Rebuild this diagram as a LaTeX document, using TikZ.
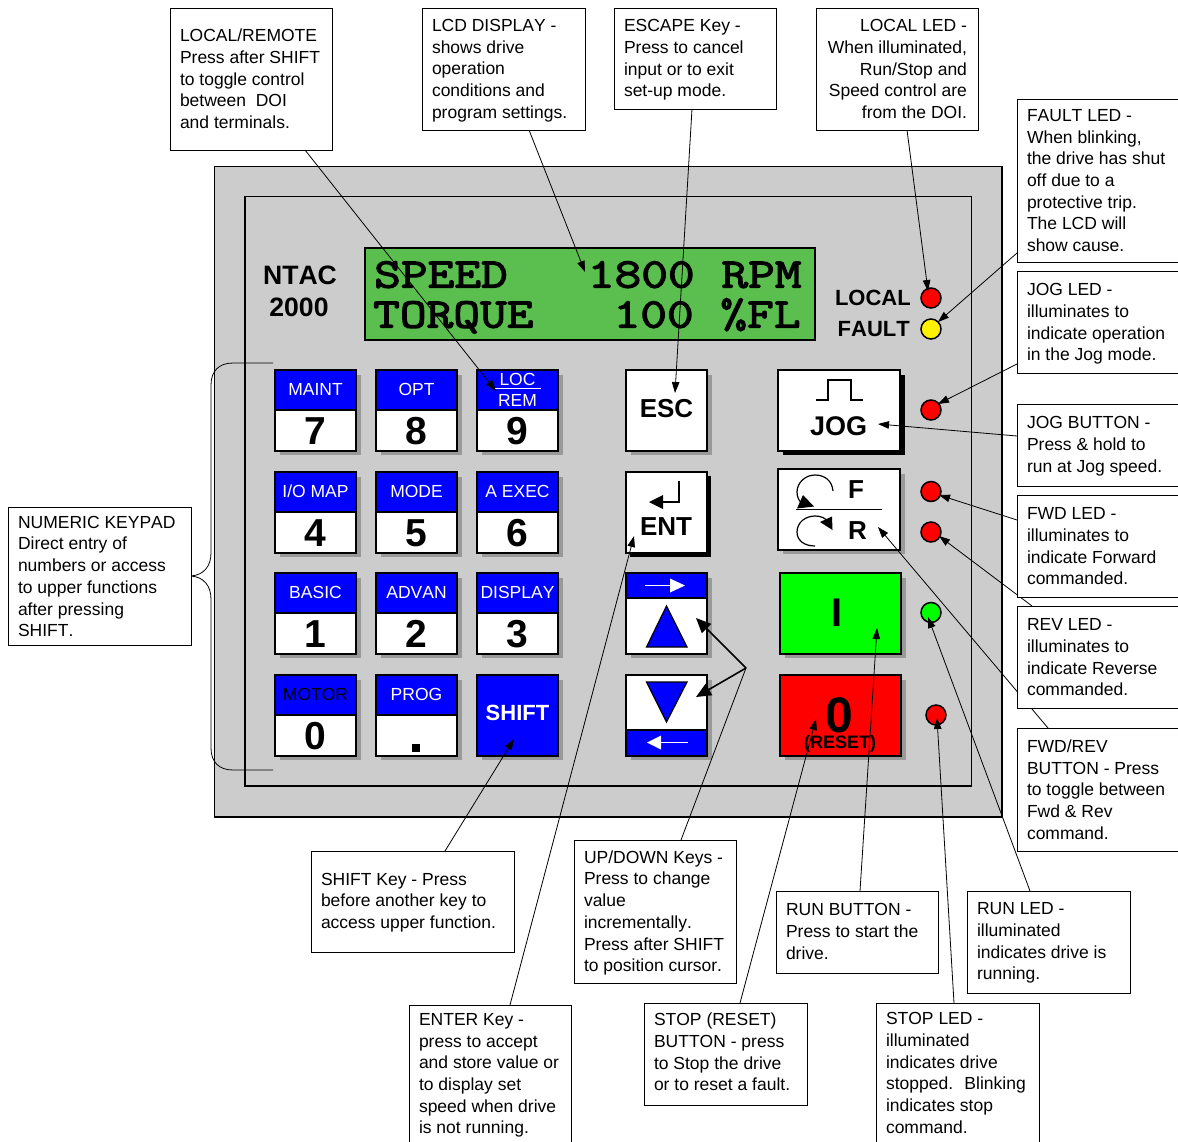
\documentclass[tikz,border=0pt]{standalone}
\usepackage{fontspec}
\setmainfont[Kerning=Off]{Liberation Sans}
\newfontfamily\lcdfont[FakeBold=3,FakeStretch=1.235]{Latin Modern Mono}
\usetikzlibrary{arrows.meta}
\pgfdeclarelayer{under}
\pgfsetlayers{under,main}
\definecolor{panelgrey}{HTML}{CCCCCC}
\definecolor{shadowgrey}{HTML}{999999}
\definecolor{lcdgreen}{HTML}{5ABF4E}
\definecolor{keyblue}{HTML}{0000FF}
\tikzset{
  callout/.style={draw=black,line width=0.7pt,outer sep=0pt,fill=white,inner sep=0pt,font=\fontsize{17.5}{21.7}\selectfont},
  lead/.style={draw=black,line width=0.8pt,-{Triangle[length=11pt,width=7.5pt]}},
  leadplain/.style={draw=black,line width=0.8pt},
  bigarrow/.style={draw=black,line width=1.6pt,-{Triangle[length=15pt,width=13pt]}},
  keyface/.style={draw=black,line width=1.5pt,outer sep=0pt,inner sep=0pt,anchor=north west},
  keyup/.style={keyface,fill=keyblue,text=white,minimum width=81pt,minimum height=40pt,font=\fontsize{17.5}{18}\selectfont,text height=12.6pt,text depth=2pt},
  keylow/.style={keyface,fill=white,minimum width=81pt,minimum height=41pt,font=\fontsize{39}{40}\bfseries\selectfont,text height=28pt,text depth=0pt},
  bold26/.style={font=\fontsize{26}{28}\bfseries\selectfont,inner sep=0pt,text height=18.6pt,text depth=0pt},
  bold22/.style={font=\fontsize{22}{24}\bfseries\selectfont,inner sep=0pt,text height=15.8pt,text depth=0pt},
  ledlamp/.style={circle,draw=black,line width=1.5pt,minimum size=20pt,inner sep=0pt},
  lcdtext/.style={font=\fontsize{42}{44}\lcdfont\selectfont,inner sep=0pt,anchor=base west},
  icon/.style={draw=black,line width=1.2pt},
}
\def\skipleft{\raggedright\leftskip=2pt\relax}
\def\skipright{\raggedleft\rightskip=3pt\relax}
% callout: name, x1, y1, x2, y2, align, text drop, text
\newcommand{\callbox}[8]{%
  \pgfmathsetlengthmacro{\cw}{#4-#2}%
  \pgfmathsetlengthmacro{\ch}{#5-#3}%
  \pgfmathsetlengthmacro{\tw}{#4-#2-16}%
  \node[callout,minimum width=\cw,minimum height=\ch] (#1) at ({(#2+#4)/2},{(#3+#5)/2}) {\raisebox{-#7pt}[\height][\depth]{\parbox[c]{\tw}{\csname skip#6\endcsname #8}}};%
}
% two-part numeric key: name, x, y, label, digit
\newcommand{\numkey}[5]{%
  \fill[shadowgrey] (#2+5,#3+5) rectangle ++(81,80);
  \node[keyup] (#1u) at (#2,#3) {#4};
  \node[keylow] (#1d) at (#2,#3+40) {#5};
}
\begin{document}
\begin{tikzpicture}[x=1pt,y=-1pt]
\useasboundingbox (0,0) rectangle (1178,1141);
\begin{pgfonlayer}{under}
\fill[white] (0,0) rectangle (1178,1141);
% panel
\draw[fill=panelgrey,line width=1.5pt] (214.5,166.5) rectangle (1002,817);
\draw[line width=1.5pt] (245,196.5) rectangle (971.5,786);
% LCD
\node[draw=black,line width=1.5pt,outer sep=0pt,fill=lcdgreen,minimum width=450pt,minimum height=92pt,inner sep=0pt,anchor=north west] (lcd) at (365,248) {};
\node[lcdtext] (lcdA) at (374,287.5) {SPEED~~~1800~RPM};
\node[lcdtext] (lcdB) at (373,327.5) {TORQUE~~~100~\%FL};
% titles
\node[font=\fontsize{26.6}{28}\bfseries\selectfont,inner sep=0pt,text height=19pt,text depth=0pt] (ntac) at (300,274.5) {NTAC};
\node[font=\fontsize{26.6}{28}\bfseries\selectfont,inner sep=0pt,text height=19pt,text depth=0pt] (ntacb) at (299,306.5) {2000};
\node[bold22,anchor=east] (loclab) at (911,298) {LOCAL};
\node[bold22,anchor=east] (faultlab) at (910,329) {FAULT};
% LEDs
\node[ledlamp,fill=red] (ledLocal) at (931,298) {};
\node[ledlamp,fill=yellow] (ledFault) at (931,329) {};
\node[ledlamp,fill=red] (ledJog) at (931,410) {};
\node[ledlamp,fill=red] (ledFwd) at (931,491.5) {};
\node[ledlamp,fill=red] (ledRev) at (931,532) {};
\node[ledlamp,fill=green] (ledRun) at (931,612.5) {};
\node[ledlamp,fill=red] (ledStop) at (936,715) {};
% keypad
\numkey{k7}{275}{370}{MAINT}{7}
\numkey{k8}{376}{370}{OPT}{8}
\numkey{k9}{477}{370}{}{9}
\node[font=\fontsize{17.5}{18}\selectfont,text=white,inner sep=0pt,text height=12.6pt,text depth=0pt] (locl) at (517.5,379.5) {LOC};
\node[font=\fontsize{17.5}{18}\selectfont,text=white,inner sep=0pt,text height=12.6pt,text depth=0pt] (reml) at (517.5,400) {REM};
\draw[white,line width=1.2pt] (495,388.5) -- (541,388.5);
\numkey{k4}{275}{472}{I/O MAP}{4}
\numkey{k5}{376}{472}{MODE}{5}
\numkey{k6}{477}{472}{A EXEC}{6}
\numkey{k1}{275}{573}{BASIC}{1}
\numkey{k2}{376}{573}{ADVAN}{2}
\numkey{k3}{477}{573}{DISPLAY}{3}
\numkey{k0}{275}{675}{\textcolor{black}{MOTOR}}{0}
\numkey{kdot}{376}{675}{PROG}{}
\fill[black] (412,744) rectangle (420,752);
\fill[shadowgrey] (482,680) rectangle ++(81,80);
\node[keyface,fill=keyblue,text=white,minimum width=81pt,minimum height=81pt,font=\fontsize{22}{24}\bfseries\selectfont,text height=15.8pt,text depth=5pt] (kshift) at (477,675) {SHIFT};
% ESC and ENT
\fill[shadowgrey] (631,375) rectangle ++(81,80);
\node[keyface,fill=white,minimum width=81pt,minimum height=81pt] (kesc) at (626,370) {};
\node[bold26] (esclab) at (666.5,408.5) {ESC};
\fill[black] (630,476) rectangle ++(81,81);
\node[keyface,fill=white,minimum width=81pt,minimum height=81pt] (kent) at (626,472) {};
\node[bold26] (entlab) at (666,526.5) {ENT};
\draw[line width=1.2pt] (679,481) -- (679,502) -- (662,502);
\fill[black] (649,502) -- (663,495) -- (663,509) -- cycle;
% JOG
\fill[black] (783,375) rectangle ++(122,80);
\node[keyface,fill=white,minimum width=122pt,minimum height=81pt] (kjog) at (778,370) {};
\draw[icon] (816,400) -- (828,400) -- (828,380) -- (851,380) -- (851,400) -- (862.5,400);
\node[font=\fontsize{27}{29}\bfseries\selectfont,inner sep=0pt,text height=19.3pt,text depth=0pt] (joglab) at (838.5,426) {JOG};
% FWD/REV
\fill[shadowgrey] (783,474) rectangle ++(122,80);
\node[keyface,fill=white,minimum width=122pt,minimum height=81pt] (kfr) at (778,469) {};
\draw[icon] (796,509.5) -- (882,509.5);
\draw[icon] (833,491) .. controls (832,480) and (824,475) .. (815,475) .. controls (805,475) and (797,483) .. (797,492) .. controls (797,497) and (799,501) .. (803,505);
\fill[black] (797,508.5) -- (814,506.5) -- (803,495) -- cycle;
\draw[icon] (815,546) .. controls (805,546) and (797,541) .. (797,532) .. controls (797,522) and (806,516) .. (815,516) .. controls (821,516) and (825,518) .. (829,522);
\fill[black] (832.5,530) -- (832,516.5) -- (820,522) -- cycle;
\node[bold26] (flab) at (856,489) {F};
\node[bold26] (rlab) at (857.5,530) {R};
% up key
\fill[shadowgrey] (631,578) rectangle ++(81,80);
\node[keyface,fill=white,minimum width=81pt,minimum height=81pt] (kup) at (626,573) {};
\node[keyface,fill=keyblue,minimum width=81pt,minimum height=25pt] (kupbar) at (626,573) {};
\fill[keyblue,draw=black,line width=1.2pt] (666.5,606) -- (646.5,647) -- (687,647) -- cycle;
\draw[white,line width=1.5pt] (645,585.5) -- (672,585.5);
\fill[white] (685,585.5) -- (670,578.5) -- (670,592.5) -- cycle;
% down key
\fill[shadowgrey] (631,680) rectangle ++(81,80);
\node[keyface,fill=white,minimum width=81pt,minimum height=81pt] (kdn) at (626,675) {};
\node[keyface,fill=keyblue,minimum width=81pt,minimum height=26pt] (kdnbar) at (626,730) {};
\fill[keyblue,draw=black,line width=1.2pt] (646.5,682) -- (687,682) -- (666.5,722) -- cycle;
\draw[white,line width=1.5pt] (688,742.5) -- (660,742.5);
\fill[white] (647,742.5) -- (661,735.5) -- (661,749.5) -- cycle;
% run / stop
\fill[shadowgrey] (785,578) rectangle ++(121,80);
\node[keyface,fill=green,minimum width=121pt,minimum height=81pt] (krun) at (780,573) {};
\node[font=\fontsize{40}{42}\bfseries\selectfont,inner sep=0pt,text height=28.6pt,text depth=0pt] (runlab) at (837,612) {I};
\fill[shadowgrey] (785,680) rectangle ++(121,80);
\node[keyface,fill=red,minimum width=121pt,minimum height=81pt] (kstop) at (780,675) {};
\node[font=\fontsize{50}{52}\bfseries\selectfont,inner sep=0pt,text height=36pt,text depth=0pt] (stoplab) at (839,714) {0};
\node[font=\fontsize{18}{20}\bfseries\selectfont,inner sep=0pt,text height=13pt,text depth=0pt] (resetlab) at (840,742) {(RESET)};
\end{pgfonlayer}
% callouts
\callbox{cLocRem}{170}{8}{332}{150}{left}{0}{LOCAL/REMOTE\\Press after SHIFT\\to toggle control\\between~ DOI\\and terminals.}
\callbox{cLcd}{422}{8}{585}{130}{left}{1.5}{LCD DISPLAY -\\shows drive\\operation\\conditions and\\program settings.}
\callbox{cEsc}{614}{8}{776}{109}{left}{1.5}{ESCAPE Key -\\Press to cancel\\input or to exit\\set-up mode.}
\callbox{cLocal}{816}{8}{978}{130}{right}{0}{LOCAL LED -\\When illuminated,\\Run/Stop and\\Speed control are\\from the DOI.}
\callbox{cFault}{1017}{99}{1179}{262}{left}{0}{FAULT LED -\\When blinking,\\the drive has shut\\off due to a\\protective trip.\\The LCD will\\show cause.}
\callbox{cJogLed}{1017}{271}{1179}{373}{left}{2}{JOG LED -\\illuminates to\\indicate operation\\in the Jog mode.}
\callbox{cJogBtn}{1017}{404}{1179}{486}{left}{1}{JOG BUTTON -\\Press \& hold to\\run at Jog speed.}
\callbox{cFwd}{1017}{495}{1179}{597}{left}{0.5}{FWD LED -\\illuminates to\\indicate Forward\\commanded.}
\callbox{cRev}{1017}{606}{1179}{708}{left}{0.5}{REV LED -\\illuminates to\\indicate Reverse\\commanded.}
\callbox{cFwdRev}{1017}{728}{1179}{851}{left}{0}{FWD/REV\\BUTTON - Press\\to toggle between\\Fwd \& Rev\\command.}
\callbox{cRunLed}{967}{891}{1130}{993}{left}{1}{RUN LED -\\illuminated\\indicates drive is\\running.}
\callbox{cStopLed}{876}{1003}{1039}{1142}{left}{0.5}{STOP LED -\\illuminated\\indicates drive\\stopped.~ Blinking\\indicates stop\\command.}
\callbox{cRunBtn}{776}{891}{938}{973}{left}{-0.5}{RUN BUTTON -\\Press to start the\\drive.}
\callbox{cStopBtn}{644}{1003}{807}{1105}{left}{-2}{STOP (RESET)\\BUTTON - press\\to Stop the drive\\or to reset a fault.}
\callbox{cUpDn}{574}{840}{736}{983}{left}{1.5}{UP/DOWN Keys -\\Press to change\\value\\incrementally.\\Press after SHIFT\\to position cursor.}
\callbox{cEnter}{409}{1005}{571}{1142}{left}{2}{ENTER Key -\\press to accept\\and store value or\\to display set\\speed when drive\\is not running.}
\callbox{cShift}{311}{851}{514}{952}{left}{1}{SHIFT Key - Press\\before another key to\\access upper function.}
\callbox{cNum}{8}{507}{191}{645}{left}{0.5}{NUMERIC KEYPAD\\Direct entry of\\numbers or access\\to upper functions\\after pressing\\SHIFT.}
% free ends of the connectors
\coordinate (tLocRem) at (496,391);
\coordinate (tLcd) at (585,272);
\coordinate (tEsc) at (675,393);
\coordinate (tLocal) at (928,291);
\coordinate (tFault) at (938,322);
\coordinate (tJogLed) at (938,404);
\coordinate (tJogBtn) at (878,424);
\coordinate (tFwd) at (939,495);
\coordinate (tRev) at (939,536);
\coordinate (tFwdRev) at (878,527);
\coordinate (tRunLed) at (928,617);
\coordinate (tStopLed) at (937,718);
\coordinate (tRunBtn) at (877,628);
\coordinate (tStopBtn) at (816,719);
\coordinate (tEnter) at (634,536);
\coordinate (tShift) at (514,739);
\coordinate (tUp) at (696,618);
\coordinate (tDn) at (696,697);
\coordinate (fork) at (746,668);
\begin{pgfonlayer}{under}
\draw[lead] ([xshift=135pt]cLocRem.south west) -- (tLocRem);
\draw[lead] ([xshift=107pt]cLcd.south west) -- (tLcd);
\draw[lead] ([xshift=78pt]cEsc.south west) -- (tEsc);
\draw[lead] ([xshift=91pt]cLocal.south west) -- (tLocal);
\draw[lead] ([yshift=9pt]cFault.south west) -- (tFault);
\draw[lead] ([yshift=9pt]cJogLed.south west) -- (tJogLed);
\draw[lead] ([yshift=50pt]cJogBtn.south west) -- (tJogBtn);
\draw[lead] ([yshift=77pt]cFwd.south west) -- (tFwd);
\draw[lead] ([xshift=15pt]cRev.north west) -- (tRev);
\draw[lead] ([xshift=31pt]cFwdRev.north west) -- (tFwdRev);
\draw[lead] ([xshift=63pt]cRunLed.north west) -- (tRunLed);
\draw[lead] ([xshift=78pt]cStopLed.north west) -- (tStopLed);
\draw[lead] ([xshift=84pt]cRunBtn.north west) -- (tRunBtn);
\draw[lead] ([xshift=96pt]cStopBtn.north west) -- (tStopBtn);
\draw[lead] ([xshift=101pt]cEnter.north west) -- (tEnter);
\draw[lead] ([xshift=134pt]cShift.north west) -- (tShift);
\draw[leadplain] ([xshift=107pt]cUpDn.north west) -- (fork);
\draw[bigarrow] (fork) -- (tUp);
\draw[bigarrow] (fork) -- (tDn);
% keypad brace
\draw[line width=0.8pt] (273,363) -- (233,363) .. controls (219,363) and (211,371) .. (211,385) -- (211,553) .. controls (211,566) and (204,575) .. (191,576) .. controls (204,577) and (211,586) .. (211,599) -- (211,748) .. controls (211,762) and (219,770) .. (233,770) -- (273,770);
\end{pgfonlayer}
\end{tikzpicture}
\end{document}
